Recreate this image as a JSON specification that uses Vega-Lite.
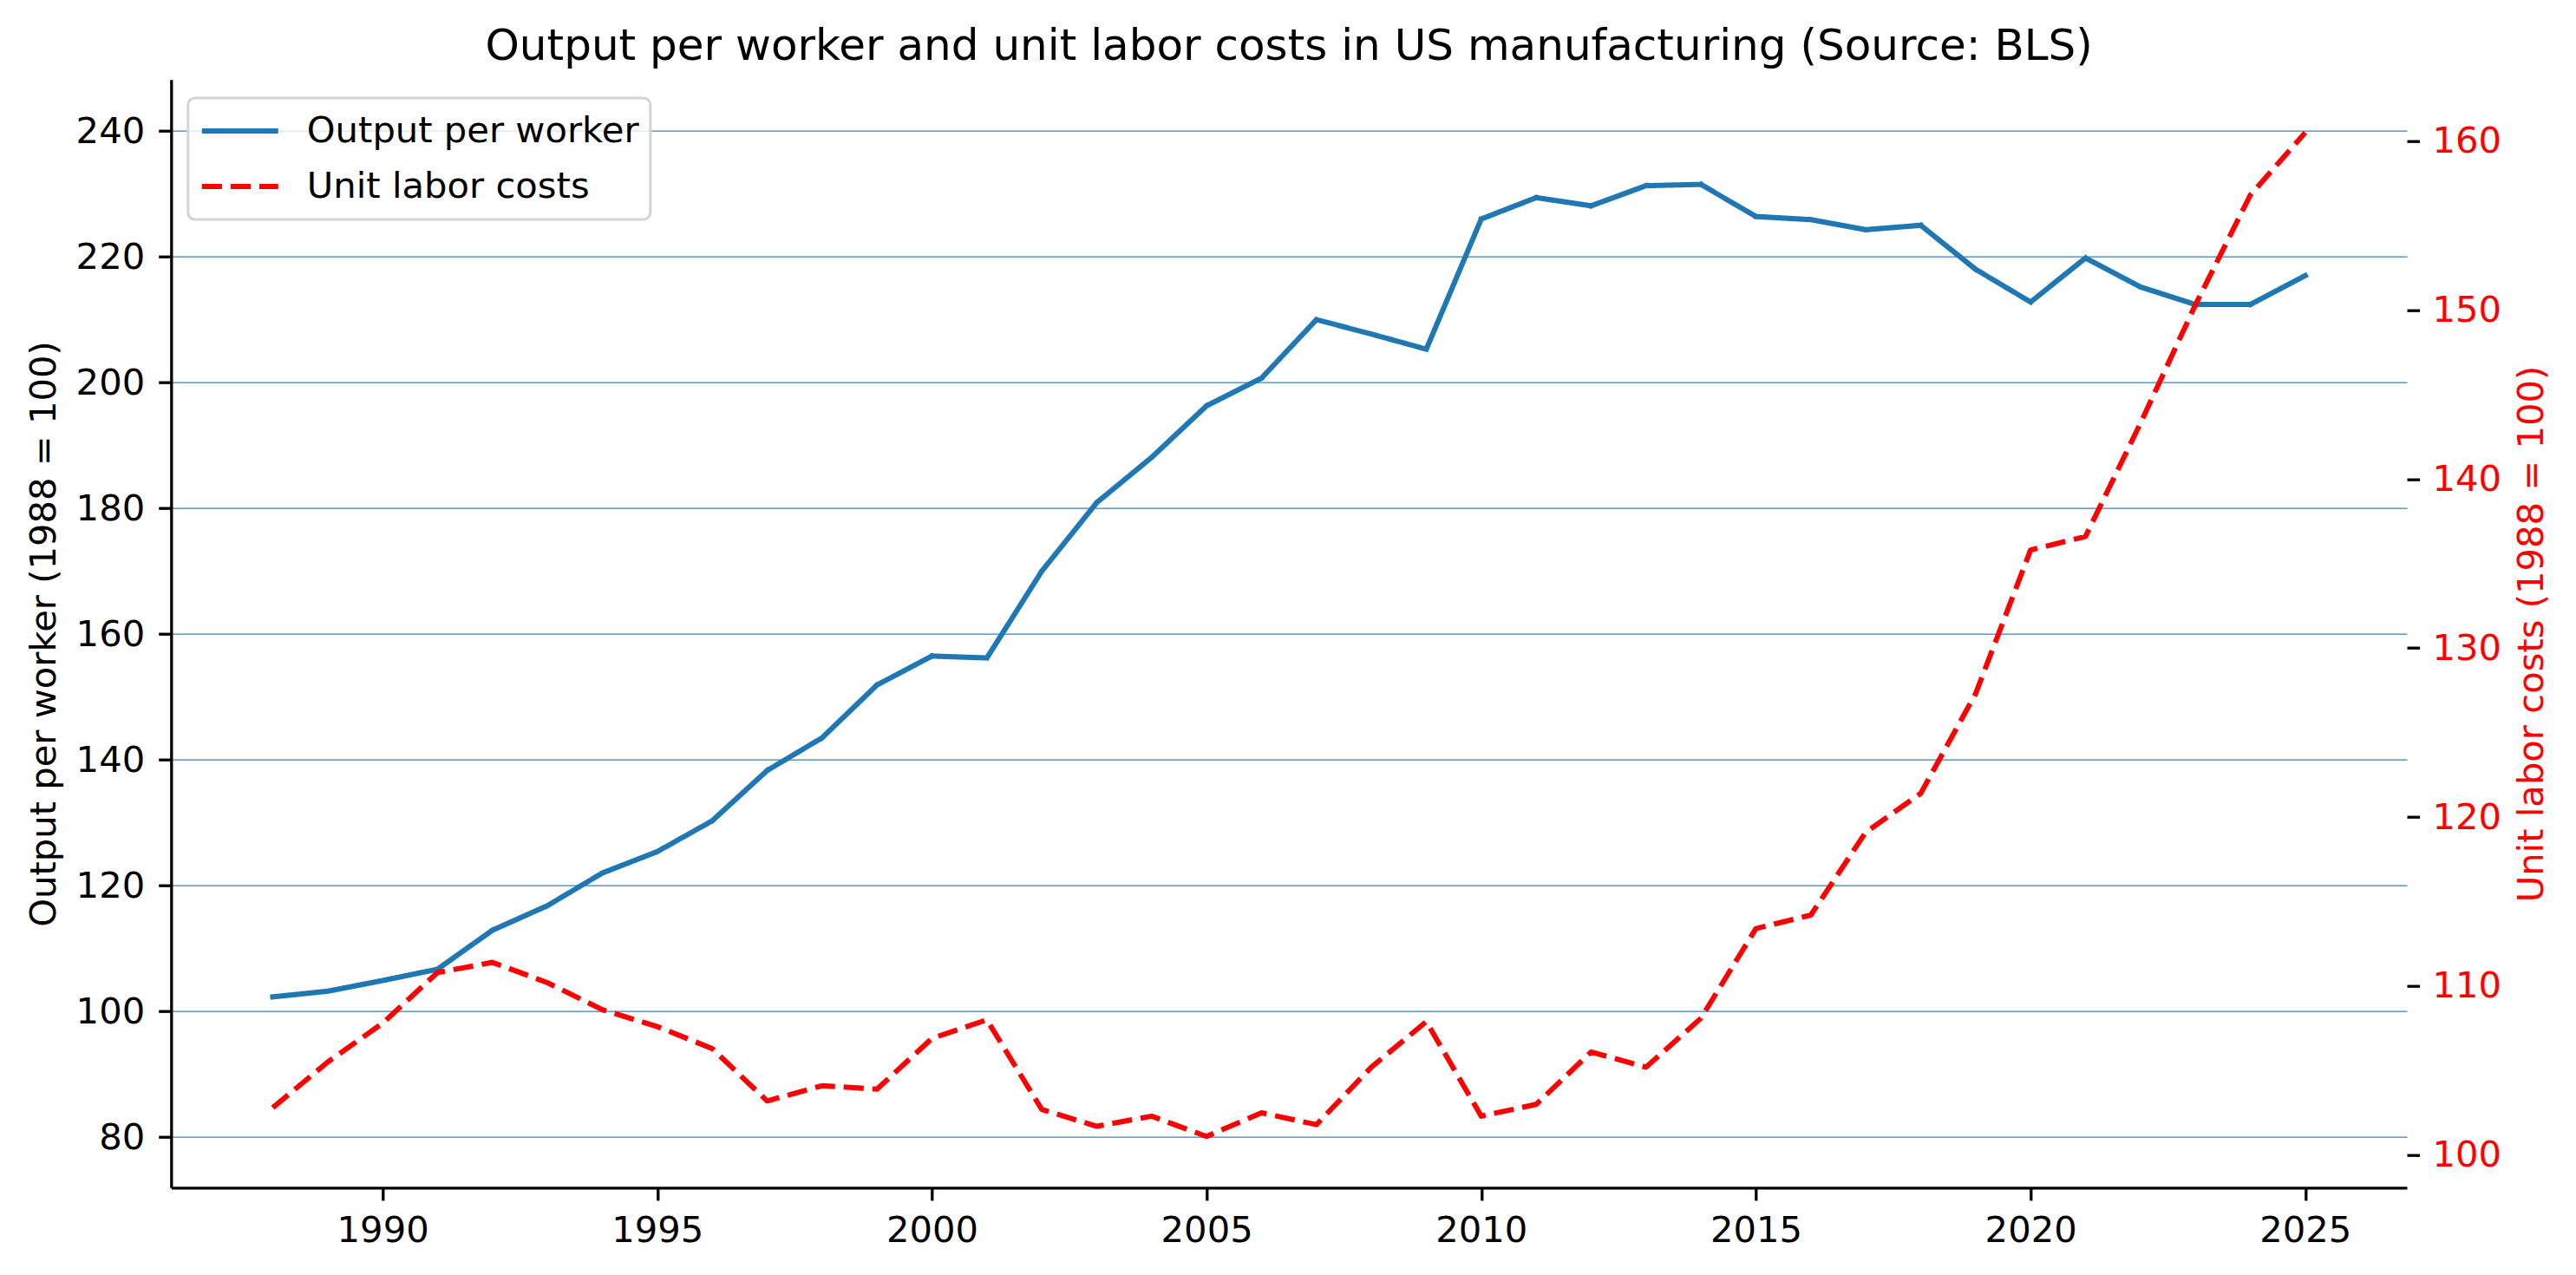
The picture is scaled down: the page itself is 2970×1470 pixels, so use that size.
{
  "$schema": "https://vega.github.io/schema/vega-lite/v6.json",
  "autosize": {"type": "none"},
  "padding": {"left": 197.3, "top": 91.7, "right": 195, "bottom": 100.7},
  "width": 2577.7,
  "height": 1277.6,
  "background": "white",
  "title": {
    "text": "Output per worker and unit labor costs in US manufacturing (Source: BLS)",
    "font": "DejaVu Sans",
    "fontSize": 50,
    "fontWeight": "normal",
    "color": "black",
    "anchor": "middle",
    "frame": "group",
    "baseline": "alphabetic",
    "offset": 23.7,
    "dy": 51
  },
  "config": {
    "view": {"stroke": null},
    "font": "DejaVu Sans",
    "legend": {"strokeWidth": 3}
  },
  "data": {
    "values": [
      {"year": 1988, "opw": 102.3, "ulc": 102.8},
      {"year": 1989, "opw": 103.2, "ulc": 105.5},
      {"year": 1990, "opw": 104.9, "ulc": 107.8},
      {"year": 1991, "opw": 106.7, "ulc": 110.8},
      {"year": 1992, "opw": 112.9, "ulc": 111.4},
      {"year": 1993, "opw": 116.8, "ulc": 110.2},
      {"year": 1994, "opw": 122.0, "ulc": 108.6},
      {"year": 1995, "opw": 125.4, "ulc": 107.6},
      {"year": 1996, "opw": 130.3, "ulc": 106.3},
      {"year": 1997, "opw": 138.3, "ulc": 103.2},
      {"year": 1998, "opw": 143.5, "ulc": 104.1},
      {"year": 1999, "opw": 151.9, "ulc": 103.9},
      {"year": 2000, "opw": 156.5, "ulc": 106.9},
      {"year": 2001, "opw": 156.2, "ulc": 108.0},
      {"year": 2002, "opw": 170.0, "ulc": 102.7},
      {"year": 2003, "opw": 180.9, "ulc": 101.7},
      {"year": 2004, "opw": 188.1, "ulc": 102.3},
      {"year": 2005, "opw": 196.3, "ulc": 101.1},
      {"year": 2006, "opw": 200.7, "ulc": 102.5},
      {"year": 2007, "opw": 210.0, "ulc": 101.8},
      {"year": 2008, "opw": 207.7, "ulc": 105.2},
      {"year": 2009, "opw": 205.3, "ulc": 107.9},
      {"year": 2010, "opw": 226.0, "ulc": 102.3},
      {"year": 2011, "opw": 229.4, "ulc": 103.0},
      {"year": 2012, "opw": 228.1, "ulc": 106.1},
      {"year": 2013, "opw": 231.3, "ulc": 105.2},
      {"year": 2014, "opw": 231.5, "ulc": 108.1},
      {"year": 2015, "opw": 226.4, "ulc": 113.4},
      {"year": 2016, "opw": 225.9, "ulc": 114.2},
      {"year": 2017, "opw": 224.3, "ulc": 119.1},
      {"year": 2018, "opw": 225.0, "ulc": 121.4},
      {"year": 2019, "opw": 218.0, "ulc": 127.3},
      {"year": 2020, "opw": 212.8, "ulc": 135.8},
      {"year": 2021, "opw": 219.8, "ulc": 136.6},
      {"year": 2022, "opw": 215.2, "ulc": 143.3},
      {"year": 2023, "opw": 212.4, "ulc": 150.3},
      {"year": 2024, "opw": 212.4, "ulc": 156.8},
      {"year": 2025, "opw": 217.0, "ulc": 160.5}
    ]
  },
  "encoding": {
    "x": {
      "field": "year",
      "type": "quantitative",
      "scale": {"domain": [1986.15, 2026.85], "nice": false, "zero": false},
      "axis": {
        "title": null,
        "values": [1990, 1995, 2000, 2005, 2010, 2015, 2020, 2025],
        "format": "d",
        "grid": false,
        "domainColor": "black",
        "domainWidth": 3.3,
        "tickColor": "black",
        "tickWidth": 3.3,
        "tickSize": 14.6,
        "labelFont": "DejaVu Sans",
        "labelFontSize": 41.7,
        "labelColor": "black",
        "labelPadding": 15,
        "labelBaseline": "top"
      }
    }
  },
  "layer": [
    {
      "mark": {"type": "line", "strokeWidth": 6, "strokeJoin": "round", "strokeCap": "square"},
      "encoding": {
        "y": {
          "field": "opw",
          "type": "quantitative",
          "scale": {"domain": [71.96, 248.18], "nice": false, "zero": false},
          "axis": {
            "orient": "left",
            "values": [80, 100, 120, 140, 160, 180, 200, 220, 240],
            "grid": true,
            "gridColor": "#3a80ba",
            "gridWidth": 1.2,
            "domainColor": "black",
            "domainWidth": 3.3,
            "tickColor": "black",
            "tickWidth": 3.3,
            "tickSize": 14.6,
            "labelFont": "DejaVu Sans",
            "labelFontSize": 41.7,
            "labelColor": "black",
            "labelPadding": 16,
            "labelBaseline": "middle",
            "title": "Output per worker (1988 = 100)",
            "titleFont": "DejaVu Sans",
            "titleFontSize": 41.7,
            "titleFontWeight": "normal",
            "titleColor": "black",
            "titleAngle": -90,
            "titleBaseline": "alphabetic",
            "titleAlign": "center",
            "titleX": -134,
            "titleY": 638.8
          }
        },
        "color": {
          "datum": "Output per worker",
          "type": "nominal",
          "scale": {"domain": ["Output per worker", "Unit labor costs"], "range": ["#1f77b4", "#ff0000"]},
          "legend": {
            "title": null,
            "orient": "none",
            "legendX": 19.5,
            "legendY": 21.3,
            "fillColor": "rgba(255,255,255,0.8)",
            "strokeColor": "#d4d4d4",
            "cornerRadius": 8,
            "padding": 13,
            "symbolType": "stroke",
            "symbolSize": 7744,
            "symbolStrokeWidth": 6,
            "labelFont": "DejaVu Sans",
            "labelFontSize": 41.7,
            "labelColor": "black",
            "labelLimit": 1000,
            "labelOffset": 30,
            "clipHeight": 50,
            "rowPadding": 14
          }
        },
        "strokeDash": {
          "datum": "Output per worker",
          "type": "nominal",
          "scale": {"domain": ["Output per worker", "Unit labor costs"], "range": [[1, 0], [23.1, 10]]},
          "legend": null
        }
      }
    },
    {
      "mark": {"type": "line", "strokeWidth": 6, "strokeJoin": "round", "strokeCap": "butt"},
      "encoding": {
        "y": {
          "field": "ulc",
          "type": "quantitative",
          "scale": {"domain": [98.07, 163.64], "nice": false, "zero": false},
          "axis": {
            "orient": "right",
            "values": [100, 110, 120, 130, 140, 150, 160],
            "grid": false,
            "domain": false,
            "tickColor": "black",
            "tickWidth": 3.3,
            "tickSize": 14.6,
            "labelFont": "DejaVu Sans",
            "labelFontSize": 41.7,
            "labelColor": "#ff0000",
            "labelPadding": 14.4,
            "labelBaseline": "middle",
            "title": "Unit labor costs (1988 = 100)",
            "titleFont": "DejaVu Sans",
            "titleFontSize": 41.7,
            "titleFontWeight": "normal",
            "titleColor": "#ff0000",
            "titleAngle": -90,
            "titleBaseline": "alphabetic",
            "titleAlign": "center",
            "titleX": 156.7,
            "titleY": 638.8
          }
        },
        "color": {"datum": "Unit labor costs", "type": "nominal"},
        "strokeDash": {"datum": "Unit labor costs", "type": "nominal"}
      }
    }
  ],
  "resolve": {"scale": {"y": "independent"}}
}
